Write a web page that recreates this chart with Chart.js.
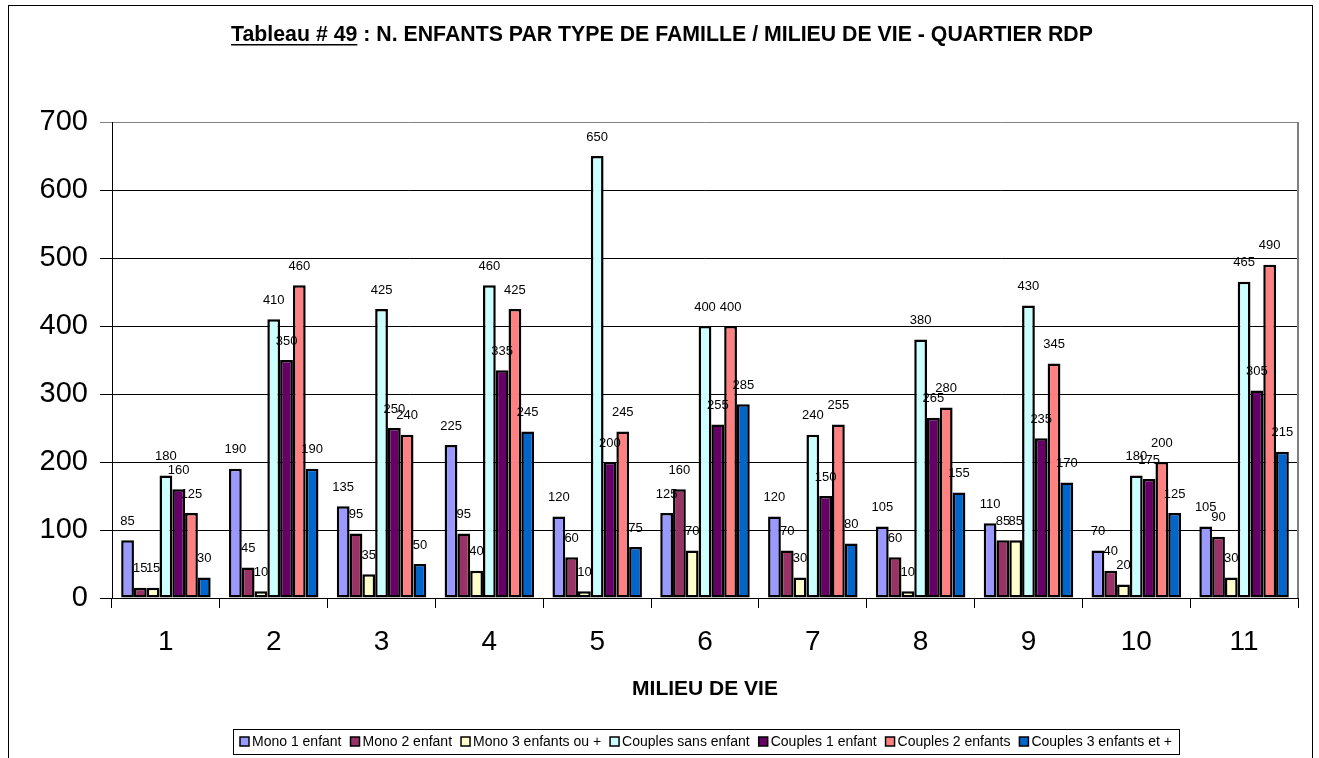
<!DOCTYPE html>
<html>
<head>
<meta charset="utf-8">
<script src="https://cdn.jsdelivr.net/npm/chart.js@4.4.1/dist/chart.umd.min.js"></script>
<style>
  html, body { margin: 0; padding: 0; background: #fff; }
  #wrap { width: 1319px; height: 758px; }
</style>
</head>
<body>
<div id="wrap"><canvas id="chart" width="1319" height="758"></canvas></div>
<script>
// categories (milieu de vie) and the counts per family type
const categories = ['1', '2', '3', '4', '5', '6', '7', '8', '9', '10', '11'];

const mono1 = [85, 190, 135, 225, 120, 125, 120, 105, 110, 70, 105];
const mono2 = [15, 45, 95, 95, 60, 160, 70, 60, 85, 40, 90];
const mono3 = [15, 10, 35, 40, 10, 70, 30, 10, 85, 20, 30];
const couples0 = [180, 410, 425, 460, 650, 400, 240, 380, 430, 180, 465];
const couples1 = [160, 350, 250, 335, 200, 255, 150, 265, 235, 175, 305];
const couples2 = [125, 460, 240, 425, 245, 400, 255, 280, 345, 200, 490];
const couples3 = [30, 190, 50, 245, 75, 285, 80, 155, 170, 125, 215];

const seriesNames = ['Mono 1 enfant', 'Mono 2 enfant', 'Mono 3 enfants ou +', 'Couples sans enfant',
                     'Couples 1 enfant', 'Couples 2 enfants', 'Couples 3 enfants et +'];
const seriesColors = ['#9999FF', '#993366', '#FFFFCC', '#CCFFFF', '#660066', '#FF8080', '#0066CC'];
const seriesValues = [mono1, mono2, mono3, couples0, couples1, couples2, couples3];

const yTicks = [0, 100, 200, 300, 400, 500, 600, 700];

const FONT = '"Liberation Sans", Arial, sans-serif';

// outer frame, split title (first part underlined) and the boxed legend row
const framePlugin = {
  id: 'frame',
  beforeDraw(chart) {
    const c = chart.ctx;
    c.save();
    c.fillStyle = '#fff';
    c.fillRect(0, 0, chart.width, chart.height);
    c.strokeStyle = '#000';
    c.lineWidth = 1;
    c.strokeRect(8.5, 5.5, 1304, 800);
    c.restore();
  },
  afterDraw(chart) {
    const c = chart.ctx;
    const a = 'Tableau # 49';
    const b = ' : N. ENFANTS PAR TYPE DE FAMILLE / MILIEU DE VIE - QUARTIER RDP';
    c.save();
    c.font = 'bold 21.3px ' + FONT;
    c.fillStyle = '#000';
    c.textBaseline = 'middle';
    const wa = c.measureText(a).width;
    const wb = c.measureText(b).width;
    let x = 662 - (wa + wb) / 2;
    const y = 35;
    c.fillText(a, x, y);
    c.fillRect(x, y + 9, wa, 1.5);
    c.fillText(b, x + wa, y);

    // legend: marker square, small gap, name; boxed and centred
    c.font = '14px ' + FONT;
    const mk = 9, gapTxt = 3, gapItem = 9, pad = 7;
    const widths = seriesNames.map(n => c.measureText(n).width);
    const inner = widths.reduce((s, w) => s + w + mk + gapTxt, 0) + gapItem * (widths.length - 1);
    const boxW = inner + pad * 2;
    const left = Math.round(705.5 - boxW / 2);
    const top = 729, h = 25, midY = 742;
    c.strokeStyle = '#000';
    c.lineWidth = 1;
    c.strokeRect(left + 0.5, top + 0.5, Math.round(boxW), h);
    let cx = left + pad;
    seriesNames.forEach((n, i) => {
      c.fillStyle = seriesColors[i];
      c.fillRect(cx, midY - 5, mk, mk);
      c.lineWidth = 1.5;
      c.strokeRect(cx, midY - 5, mk, mk);
      c.fillStyle = '#000';
      c.fillText(n, cx + mk + gapTxt, midY);
      cx += mk + gapTxt + widths[i] + gapItem;
    });
    c.restore();
  }
};

// grey right edge of the plot area
const plotEdgePlugin = {
  id: 'plotEdge',
  beforeDatasetsDraw(chart) {
    const a = chart.chartArea;
    const c = chart.ctx;
    c.save();
    c.strokeStyle = '#808080';
    c.lineWidth = 2;
    c.beginPath();
    c.moveTo(a.right, a.top);
    c.lineTo(a.right, a.bottom);
    c.stroke();
    c.restore();
  }
};

// value labels above each bar
const valueLabels = {
  id: 'valueLabels',
  afterDatasetsDraw(chart) {
    const c = chart.ctx;
    c.save();
    c.font = '13px ' + FONT;
    c.fillStyle = '#000';
    c.textAlign = 'center';
    c.textBaseline = 'middle';
    chart.data.datasets.forEach((ds, i) => {
      chart.getDatasetMeta(i).data.forEach((bar, j) => {
        c.fillText(String(ds.data[j]), bar.x, bar.y - 19);
      });
    });
    c.restore();
  }
};

new Chart(document.getElementById('chart'), {
  type: 'bar',
  data: {
    labels: categories,
    datasets: seriesValues.map((vals, i) => ({
      label: seriesNames[i],
      data: vals,
      backgroundColor: seriesColors[i],
      borderColor: '#000',
      borderWidth: 2.5,
      borderSkipped: false,
      barPercentage: 1.0,
      categoryPercentage: 0.83
    }))
  },
  options: {
    responsive: false,
    animation: false,
    devicePixelRatio: 1,
    layout: { padding: { left: 0, right: 21, top: 122, bottom: 34 } },
    plugins: {
      title: { display: false },
      tooltip: { enabled: false },
      legend: { display: false }
    },
    scales: {
      x: {
        grid: { display: true, drawOnChartArea: false, drawTicks: true, tickLength: 10, color: '#000', offset: true },
        border: { display: true, color: '#000', width: 1 },
        ticks: { color: '#000', font: { family: FONT, size: 28 }, padding: 17 },
        title: {
          display: true,
          text: 'MILIEU DE VIE',
          color: '#000',
          font: { family: FONT, size: 21, weight: 'bold' },
          padding: { top: 10, bottom: 22 }
        },
        afterFit(scale) { scale.height = 126; }
      },
      y: {
        min: 0,
        max: 700,
        afterBuildTicks(scale) { scale.ticks = yTicks.map(v => ({ value: v })); },
        grid: {
          color: ctx => (ctx.tick && ctx.tick.value === 700 ? '#808080' : '#000'),
          lineWidth: 1,
          tickLength: 12
        },
        border: { display: true, color: '#000', width: 1 },
        ticks: { color: '#000', font: { family: FONT, size: 29 }, padding: 12 },
        afterFit(scale) { scale.width = 112; }
      }
    }
  },
  plugins: [framePlugin, plotEdgePlugin, valueLabels]
});
</script>
</body>
</html>
